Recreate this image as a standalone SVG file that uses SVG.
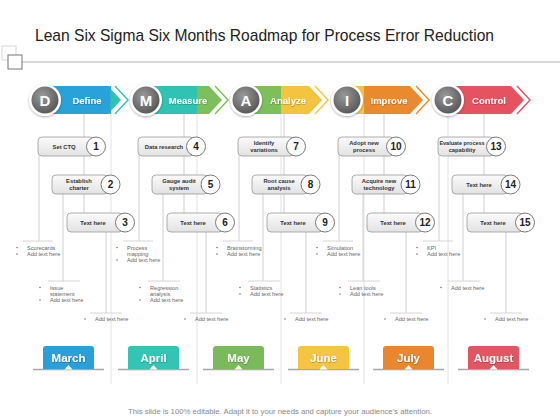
<svg xmlns="http://www.w3.org/2000/svg" width="560" height="420" viewBox="0 0 560 420">
<style>
.title{font-family:"Liberation Sans",Arial,sans-serif;font-size:17px;fill:#222}
.foot{font-family:"Liberation Sans",Arial,sans-serif;font-size:7.5px;fill:#8a8a8a}
.sep{stroke:#e2e2e2;stroke-width:1;fill:none}
.ln{stroke:#cfcfcf;stroke-width:1;fill:none}
.hl{stroke:#d6d6d6;stroke-width:1;fill:none}
.ph{font-family:"Liberation Sans",Arial,sans-serif;font-size:9.5px;font-weight:bold;fill:#fff;text-anchor:middle}
.let{font-family:"Liberation Sans",Arial,sans-serif;font-size:15px;font-weight:bold;fill:#fff;text-anchor:middle}
.box{fill:url(#bg);stroke:#9a9a9a;stroke-width:0.8}
.num{fill:#fff;stroke:#7a7a7a;stroke-width:1}
.nt{font-family:"Liberation Sans",Arial,sans-serif;font-size:10px;font-weight:bold;fill:#222;text-anchor:middle}
.bt{font-family:"Liberation Sans",Arial,sans-serif;font-size:5.8px;font-weight:bold;fill:#333;text-anchor:middle}
.tx{font-family:"Liberation Sans",Arial,sans-serif;font-size:5.6px;fill:#666}
.dot{fill:#777}
.mo{font-family:"Liberation Sans",Arial,sans-serif;font-size:11.5px;font-weight:bold;fill:#fff;text-anchor:middle}
.ul{stroke:#a8a8a8;stroke-width:1.5}
.chev{fill:none;stroke-width:1.4}
</style>
<defs>
<linearGradient id="bg" x1="0" y1="0" x2="0" y2="1"><stop offset="0" stop-color="#fbfbfb"/><stop offset="1" stop-color="#e2e2e2"/></linearGradient>
<radialGradient id="cg" cx="0.4" cy="0.35" r="0.7"><stop offset="0" stop-color="#9a9a9a"/><stop offset="1" stop-color="#555"/></radialGradient>
<filter id="sh" x="-30%" y="-30%" width="160%" height="160%"><feDropShadow dx="0" dy="1" stdDeviation="1.2" flood-color="#000" flood-opacity="0.35"/></filter>
<filter id="ts" x="-10%" y="-20%" width="120%" height="150%"><feDropShadow dx="0.4" dy="0.6" stdDeviation="0.3" flood-color="#000" flood-opacity="0.35"/></filter>
</defs>

<rect width="560" height="420" fill="#fff"/>
<rect x="2" y="46" width="14" height="14" fill="none" stroke="#d8d8d8"/>
<line x1="22" y1="62" x2="560" y2="62" stroke="#cccccc" stroke-width="1.5"/>
<rect x="8" y="55" width="14" height="14" fill="#fff" stroke="#777"/>
<text class="title" x="35" y="41" textLength="459" lengthAdjust="spacingAndGlyphs">Lean Six Sigma Six Months Roadmap for Process Error Reduction</text>

<g id="connectors">
<line class="sep" x1="111" y1="114" x2="111" y2="384"/>
<line class="sep" x1="197" y1="114" x2="197" y2="384"/>
<line class="sep" x1="281" y1="114" x2="281" y2="384"/>
<line class="sep" x1="364" y1="114" x2="364" y2="384"/>
<line class="sep" x1="448" y1="114" x2="448" y2="384"/>
<g>
<line class="ln" x1="84" y1="114" x2="84" y2="213"/><line class="ln" x1="39" y1="156" x2="39" y2="241"/><line class="ln" x1="63" y1="194" x2="63" y2="281"/><line class="ln" x1="106" y1="232" x2="106" y2="313"/>
<line class="hl" x1="23" y1="241" x2="53" y2="241"/><line class="hl" x1="48" y1="281" x2="80" y2="281"/><line class="hl" x1="90" y1="313" x2="122" y2="313"/>
</g>
<g transform="translate(100 0)">
<line class="ln" x1="84" y1="114" x2="84" y2="213"/><line class="ln" x1="39" y1="156" x2="39" y2="241"/><line class="ln" x1="63" y1="194" x2="63" y2="281"/><line class="ln" x1="106" y1="232" x2="106" y2="313"/>
<line class="hl" x1="23" y1="241" x2="53" y2="241"/><line class="hl" x1="48" y1="281" x2="80" y2="281"/><line class="hl" x1="90" y1="313" x2="122" y2="313"/>
</g>
<g transform="translate(200 0)">
<line class="ln" x1="84" y1="114" x2="84" y2="213"/><line class="ln" x1="39" y1="156" x2="39" y2="241"/><line class="ln" x1="63" y1="194" x2="63" y2="281"/><line class="ln" x1="106" y1="232" x2="106" y2="313"/>
<line class="hl" x1="23" y1="241" x2="53" y2="241"/><line class="hl" x1="48" y1="281" x2="80" y2="281"/><line class="hl" x1="90" y1="313" x2="122" y2="313"/>
</g>
<g transform="translate(300 0)">
<line class="ln" x1="84" y1="114" x2="84" y2="213"/><line class="ln" x1="39" y1="156" x2="39" y2="241"/><line class="ln" x1="63" y1="194" x2="63" y2="281"/><line class="ln" x1="106" y1="232" x2="106" y2="313"/>
<line class="hl" x1="23" y1="241" x2="53" y2="241"/><line class="hl" x1="48" y1="281" x2="80" y2="281"/><line class="hl" x1="90" y1="313" x2="122" y2="313"/>
</g>
<g transform="translate(400 0)">
<line class="ln" x1="84" y1="114" x2="84" y2="213"/><line class="ln" x1="39" y1="156" x2="39" y2="241"/><line class="ln" x1="63" y1="194" x2="63" y2="281"/><line class="ln" x1="106" y1="232" x2="106" y2="313"/>
<line class="hl" x1="23" y1="241" x2="53" y2="241"/><line class="hl" x1="48" y1="281" x2="80" y2="281"/><line class="hl" x1="90" y1="313" x2="122" y2="313"/>
</g>
</g>

<g id="phase-define">
<rect x="45" y="86" width="66" height="28" fill="#29a2da"/>
<path d="M110.5 86 H108 L121 100 L108 114 H110.5 Z" fill="#30c3b3"/>
<polyline class="chev" points="115,86 128,100 115,114" stroke="#30c3b3"/>
<text class="ph" x="87" y="103.5" filter="url(#ts)">Define</text>
<circle cx="45" cy="100" r="16" fill="#fff" filter="url(#sh)"/>
<circle cx="45" cy="100" r="13.5" fill="url(#cg)"/>
<text class="let" x="45" y="105.5">D</text>
</g>
<g id="phase-measure">
<rect x="146" y="86" width="51" height="28" fill="#30c3b3"/>
<path d="M197 86 H209 L222 100 L209 114 H197 Z" fill="#7cbf5b"/>
<polyline class="chev" points="215,86 228,100 215,114" stroke="#7cbf5b"/>
<text class="ph" x="188" y="103.5" filter="url(#ts)">Measure</text>
<circle cx="146" cy="100" r="16" fill="#fff" filter="url(#sh)"/>
<circle cx="146" cy="100" r="13.5" fill="url(#cg)"/>
<text class="let" x="146" y="105.5">M</text>
</g>
<g id="phase-analyze">
<rect x="246" y="86" width="35" height="28" fill="#7cbf5b"/>
<path d="M281 86 H309 L322 100 L309 114 H281 Z" fill="#f4c441"/>
<polyline class="chev" points="315,86 328,100 315,114" stroke="#f4c441"/>
<text class="ph" x="288" y="103.5" filter="url(#ts)">Analyze</text>
<circle cx="246" cy="100" r="16" fill="#fff" filter="url(#sh)"/>
<circle cx="246" cy="100" r="13.5" fill="url(#cg)"/>
<text class="let" x="246" y="105.5">A</text>
</g>
<g id="phase-improve">
<rect x="347" y="86" width="17" height="28" fill="#f4c441"/>
<path d="M364 86 H410 L423 100 L410 114 H364 Z" fill="#ea8a2f"/>
<polyline class="chev" points="416,86 429,100 416,114" stroke="#ea8a2f"/>
<text class="ph" x="389" y="103.5" filter="url(#ts)">Improve</text>
<circle cx="347" cy="100" r="16" fill="#fff" filter="url(#sh)"/>
<circle cx="347" cy="100" r="13.5" fill="url(#cg)"/>
<text class="let" x="347" y="105.5">I</text>
</g>
<g id="phase-control">
<path d="M448 86 H511 L524 100 L511 114 H448 Z" fill="#e4535f"/>
<polyline class="chev" points="517,86 530,100 517,114" stroke="#e4535f"/>
<text class="ph" x="489" y="103.5" filter="url(#ts)">Control</text>
<circle cx="448" cy="100" r="16" fill="#fff" filter="url(#sh)"/>
<circle cx="448" cy="100" r="13.5" fill="url(#cg)"/>
<text class="let" x="448" y="105.5">C</text>
</g>

<g id="step1"><rect class="box" x="38" y="137" width="56" height="19" rx="4"/><circle class="num" cx="96" cy="146.5" r="9.5"/><text class="nt" x="96" y="150">1</text><text class="bt" x="64" y="148.5">Set CTQ</text></g>
<g id="step2"><rect class="box" x="52" y="175" width="56" height="19" rx="4"/><circle class="num" cx="110.5" cy="184.5" r="9.5"/><text class="nt" x="110.5" y="188">2</text><text class="bt" x="79" y="183">Establish</text><text class="bt" x="79" y="189.5">charter</text></g>
<g id="step3"><rect class="box" x="67" y="213" width="56" height="19" rx="4"/><circle class="num" cx="125" cy="222.5" r="9.5"/><text class="nt" x="125" y="226">3</text><text class="bt" x="93" y="224.5">Text here</text></g>

<g id="step4"><rect class="box" x="138" y="137" width="56" height="19" rx="4"/><circle class="num" cx="196" cy="146.5" r="9.5"/><text class="nt" x="196" y="150">4</text><text class="bt" x="164" y="148.5">Data research</text></g>
<g id="step5"><rect class="box" x="152" y="175" width="56" height="19" rx="4"/><circle class="num" cx="210.5" cy="184.5" r="9.5"/><text class="nt" x="210.5" y="188">5</text><text class="bt" x="179" y="183">Gauge audit</text><text class="bt" x="179" y="189.5">system</text></g>
<g id="step6"><rect class="box" x="167" y="213" width="56" height="19" rx="4"/><circle class="num" cx="225" cy="222.5" r="9.5"/><text class="nt" x="225" y="226">6</text><text class="bt" x="193" y="224.5">Text here</text></g>

<g id="step7"><rect class="box" x="238" y="137" width="56" height="19" rx="4"/><circle class="num" cx="296" cy="146.5" r="9.5"/><text class="nt" x="296" y="150">7</text><text class="bt" x="264" y="145">Identify</text><text class="bt" x="264" y="151.5">variations</text></g>
<g id="step8"><rect class="box" x="252" y="175" width="56" height="19" rx="4"/><circle class="num" cx="310.5" cy="184.5" r="9.5"/><text class="nt" x="310.5" y="188">8</text><text class="bt" x="279" y="183">Root cause</text><text class="bt" x="279" y="189.5">analysis</text></g>
<g id="step9"><rect class="box" x="267" y="213" width="56" height="19" rx="4"/><circle class="num" cx="325" cy="222.5" r="9.5"/><text class="nt" x="325" y="226">9</text><text class="bt" x="293" y="224.5">Text here</text></g>

<g id="step10"><rect class="box" x="338" y="137" width="56" height="19" rx="4"/><circle class="num" cx="396" cy="146.5" r="9.5"/><text class="nt" x="396" y="150">10</text><text class="bt" x="364" y="145">Adopt new</text><text class="bt" x="364" y="151.5">process</text></g>
<g id="step11"><rect class="box" x="352" y="175" width="56" height="19" rx="4"/><circle class="num" cx="410.5" cy="184.5" r="9.5"/><text class="nt" x="410.5" y="188">11</text><text class="bt" x="379" y="183">Acquire new</text><text class="bt" x="379" y="189.5">technology</text></g>
<g id="step12"><rect class="box" x="367" y="213" width="56" height="19" rx="4"/><circle class="num" cx="425" cy="222.5" r="9.5"/><text class="nt" x="425" y="226">12</text><text class="bt" x="393" y="224.5">Text here</text></g>

<g id="step13"><rect class="box" x="438" y="137" width="56" height="19" rx="4"/><circle class="num" cx="496" cy="146.5" r="9.5"/><text class="nt" x="496" y="150">13</text><text class="bt" x="462" y="145" style="font-size:5.5px">Evaluate process</text><text class="bt" x="462" y="151.5">capability</text></g>
<g id="step14"><rect class="box" x="452" y="175" width="56" height="19" rx="4"/><circle class="num" cx="510.5" cy="184.5" r="9.5"/><text class="nt" x="510.5" y="188">14</text><text class="bt" x="479" y="186.5">Text here</text></g>
<g id="step15"><rect class="box" x="467" y="213" width="56" height="19" rx="4"/><circle class="num" cx="525" cy="222.5" r="9.5"/><text class="nt" x="525" y="226">15</text><text class="bt" x="493" y="224.5">Text here</text></g>

<g id="notes-define">
<circle class="dot" cx="17" cy="247.5" r="0.8"/><text class="tx" x="27" y="249.5">Scorecards</text>
<circle class="dot" cx="17" cy="254" r="0.8"/><text class="tx" x="27" y="256">Add text here</text>
<circle class="dot" cx="40" cy="287.5" r="0.8"/><text class="tx" x="50" y="289.5">Issue</text><text class="tx" x="50" y="295.5">statement</text>
<circle class="dot" cx="40" cy="300" r="0.8"/><text class="tx" x="50" y="302">Add text here</text>
<circle class="dot" cx="85" cy="319" r="0.8"/><text class="tx" x="95" y="321">Add text here</text>
</g>
<g id="notes-measure">
<circle class="dot" cx="117" cy="247.5" r="0.8"/><text class="tx" x="127" y="249.5">Process</text><text class="tx" x="127" y="255.5">mapping</text>
<circle class="dot" cx="117" cy="260" r="0.8"/><text class="tx" x="127" y="262">Add text here</text>
<circle class="dot" cx="140" cy="287.5" r="0.8"/><text class="tx" x="150" y="289.5">Regression</text><text class="tx" x="150" y="295.5">analysis</text>
<circle class="dot" cx="140" cy="300" r="0.8"/><text class="tx" x="150" y="302">Add text here</text>
<circle class="dot" cx="185" cy="319" r="0.8"/><text class="tx" x="195" y="321">Add text here</text>
</g>
<g id="notes-analyze">
<circle class="dot" cx="217" cy="247.5" r="0.8"/><text class="tx" x="227" y="249.5">Brainstorming</text>
<circle class="dot" cx="217" cy="254" r="0.8"/><text class="tx" x="227" y="256">Add text here</text>
<circle class="dot" cx="240" cy="287.5" r="0.8"/><text class="tx" x="250" y="289.5">Statistics</text>
<circle class="dot" cx="240" cy="294" r="0.8"/><text class="tx" x="250" y="296">Add text here</text>
<circle class="dot" cx="285" cy="319" r="0.8"/><text class="tx" x="295" y="321">Add text here</text>
</g>
<g id="notes-improve">
<circle class="dot" cx="317" cy="247.5" r="0.8"/><text class="tx" x="327" y="249.5">Simulation</text>
<circle class="dot" cx="317" cy="254" r="0.8"/><text class="tx" x="327" y="256">Add text here</text>
<circle class="dot" cx="340" cy="287.5" r="0.8"/><text class="tx" x="350" y="289.5">Lean tools</text>
<circle class="dot" cx="340" cy="294" r="0.8"/><text class="tx" x="350" y="296">Add text here</text>
<circle class="dot" cx="385" cy="319" r="0.8"/><text class="tx" x="395" y="321">Add text here</text>
</g>
<g id="notes-control">
<circle class="dot" cx="417" cy="247.5" r="0.8"/><text class="tx" x="427" y="249.5">KPI</text>
<circle class="dot" cx="417" cy="254" r="0.8"/><text class="tx" x="427" y="256">Add text here</text>
<circle class="dot" cx="441" cy="287.5" r="0.8"/><text class="tx" x="451" y="289.5">Add text here</text>
<circle class="dot" cx="485" cy="319" r="0.8"/><text class="tx" x="495" y="321">Add text here</text>
</g>

<g id="month-march"><line class="ul" x1="33" y1="369.5" x2="104" y2="369.5"/><path d="M43 369 V349 Q43 346 46 346 H91 Q94 346 94 349 V369 Z" fill="#2a9fd8"/><path d="M64.5 369.5 L68.5 365 L72.5 369.5 Z" fill="#fff"/><text class="mo" x="68.5" y="361.5" filter="url(#ts)">March</text></g>
<g id="month-april"><line class="ul" x1="118" y1="369.5" x2="189" y2="369.5"/><path d="M128 369 V349 Q128 346 131 346 H176 Q179 346 179 349 V369 Z" fill="#33c4b4"/><path d="M149.5 369.5 L153.5 365 L157.5 369.5 Z" fill="#fff"/><text class="mo" x="153.5" y="361.5" filter="url(#ts)">April</text></g>
<g id="month-may"><line class="ul" x1="203" y1="369.5" x2="274" y2="369.5"/><path d="M213 369 V349 Q213 346 216 346 H261 Q264 346 264 349 V369 Z" fill="#79bb5a"/><path d="M234.5 369.5 L238.5 365 L242.5 369.5 Z" fill="#fff"/><text class="mo" x="238.5" y="361.5" filter="url(#ts)">May</text></g>
<g id="month-june"><line class="ul" x1="288" y1="369.5" x2="359" y2="369.5"/><path d="M298 369 V349 Q298 346 301 346 H346 Q349 346 349 349 V369 Z" fill="#f5c443"/><path d="M319.5 369.5 L323.5 365 L327.5 369.5 Z" fill="#fff"/><text class="mo" x="323.5" y="361.5" filter="url(#ts)">June</text></g>
<g id="month-july"><line class="ul" x1="373" y1="369.5" x2="444" y2="369.5"/><path d="M383 369 V349 Q383 346 386 346 H431 Q434 346 434 349 V369 Z" fill="#e98630"/><path d="M404.5 369.5 L408.5 365 L412.5 369.5 Z" fill="#fff"/><text class="mo" x="408.5" y="361.5" filter="url(#ts)">July</text></g>
<g id="month-august"><line class="ul" x1="458" y1="369.5" x2="529" y2="369.5"/><path d="M468 369 V349 Q468 346 471 346 H516 Q519 346 519 349 V369 Z" fill="#e35561"/><path d="M489.5 369.5 L493.5 365 L497.5 369.5 Z" fill="#fff"/><text class="mo" x="493.5" y="361.5" filter="url(#ts)">August</text></g>

<text class="foot" x="280" y="414" text-anchor="middle" textLength="304" lengthAdjust="spacingAndGlyphs">This slide is 100% editable. Adapt it to your needs and capture your audience's attention.</text>
</svg>
